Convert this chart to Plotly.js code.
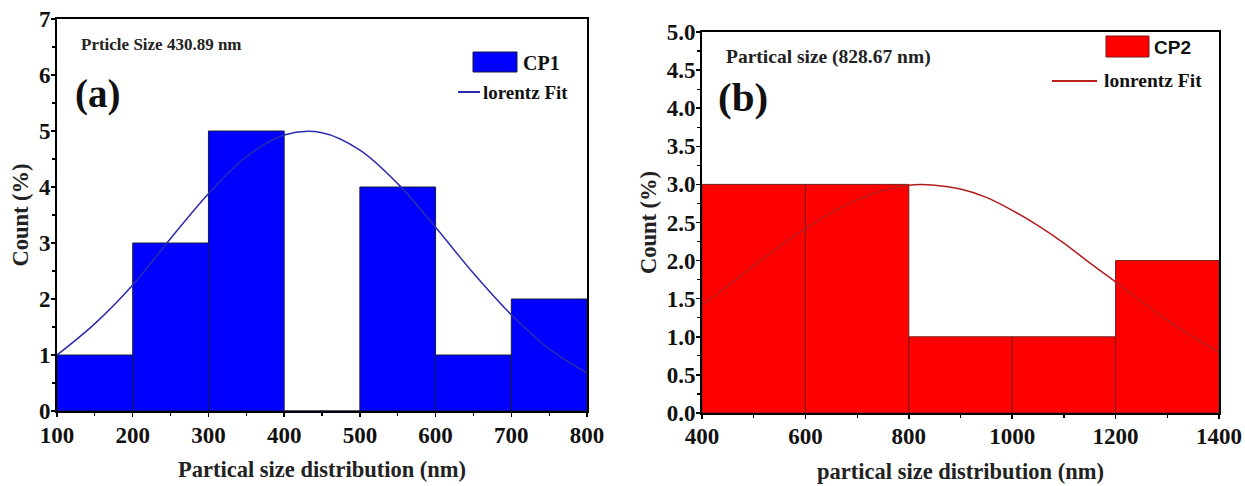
<!DOCTYPE html>
<html>
<head>
<meta charset="utf-8">
<script src="https://cdn.plot.ly/plotly-3.0.1.min.js"></script>
<style>html,body{margin:0;padding:0;background:#fff;}#chart{width:1245px;height:486px;}</style>
</head>
<body>
<div id="chart"></div>
<script>
// ---- Panel (a): CP1 ----
const binEdgesA = [100, 200, 300, 400, 500, 600, 700, 800];
const countsA = [1, 3, 5, 0, 4, 1, 2];
const fitXA = [100, 150, 200, 250, 300, 350, 400, 450, 500, 550, 600, 650, 700, 750, 800];
const fitYA = [1.0, 1.56, 2.25, 3.08, 3.88, 4.54, 4.93, 4.97, 4.66, 4.06, 3.28, 2.46, 1.72, 1.11, 0.68];
const xTicksA = [100, 200, 300, 400, 500, 600, 700, 800];
const yTicksA = [0, 1, 2, 3, 4, 5, 6, 7];

// ---- Panel (b): CP2 ----
const binEdgesB = [400, 600, 800, 1000, 1200, 1400];
const countsB = [3, 3, 1, 1, 2];
const fitXB = [400, 450, 500, 550, 600, 650, 700, 750, 800, 850, 900, 950, 1000, 1050, 1100, 1150, 1200, 1250, 1300, 1350, 1400];
const fitYB = [1.42, 1.67, 1.93, 2.19, 2.42, 2.63, 2.8, 2.92, 2.99, 2.99, 2.94, 2.83, 2.66, 2.46, 2.23, 1.97, 1.72, 1.46, 1.22, 1.0, 0.8];
const xTicksB = [400, 600, 800, 1000, 1200, 1400];
const yTicksB = [0, 0.5, 1.0, 1.5, 2.0, 2.5, 3.0, 3.5, 4.0, 4.5, 5.0];

function mids(e){ return e.slice(0,-1).map((v,i)=>(v+e[i+1])/2); }
function widths(e){ return e.slice(0,-1).map((v,i)=>e[i+1]-v); }

const SERIF = 'Liberation Serif, Times New Roman, serif';
const SANS = 'Liberation Sans, Arial, sans-serif';
const W = 1245, H = 486;
const px = v => v / W;
const py = v => 1 - v / H;

const traces = [
  {type:'bar', x:mids(binEdgesA), y:countsA, width:widths(binEdgesA), name:'CP1', showlegend:false,
   marker:{color:'#0000ff', line:{color:'#1a1a40', width:1}}, xaxis:'x', yaxis:'y'},
  {type:'scatter', mode:'lines', x:fitXA, y:fitYA, name:'lorentz Fit', showlegend:false,
   line:{color:'#2b2bb0', width:1.5, shape:'spline'}, xaxis:'x', yaxis:'y'},
  {type:'bar', x:mids(binEdgesB), y:countsB, width:widths(binEdgesB), name:'CP2', showlegend:false,
   marker:{color:'#ff0000', line:{color:'#7a1a1a', width:1}}, xaxis:'x2', yaxis:'y2'},
  {type:'scatter', mode:'lines', x:fitXB, y:fitYB, name:'lonrentz Fit', showlegend:false,
   line:{color:'#b51c1c', width:1.5, shape:'spline'}, xaxis:'x2', yaxis:'y2'}
];

const axisCommon = {
  showline:true, mirror:true, linecolor:'#000', linewidth:2, showgrid:false, zeroline:false,
  ticks:'outside', ticklen:4, tickwidth:1.5, tickcolor:'#000',
  tickfont:{family:SERIF, size:23, color:'#111', weight:'bold'}
};
const titleFont = {family:SERIF, size:22.5, color:'#222', weight:'bold'};

const layout = {
  width:W, height:H,
  margin:{l:0, r:0, t:0, b:0},
  paper_bgcolor:'#fff', plot_bgcolor:'#fff',
  bargap:0, showlegend:false,
  xaxis:Object.assign({}, axisCommon, {
    domain:[0.0458, 0.4715], range:[100, 800], tickvals:xTicksA, ticklabelstandoff:-2,
    minor:{dtick:50, ticks:'outside', ticklen:3, tickcolor:'#000', tickwidth:1.2},
    title:{text:'Partical size distribution (nm)', font:titleFont, standoff:15}
  }),
  yaxis:Object.assign({}, axisCommon, {
    domain:[0.1543, 0.9609], range:[0, 7], tickvals:yTicksA, ticklabelstandoff:-4,
    minor:{dtick:0.5, ticks:'outside', ticklen:3, tickcolor:'#000', tickwidth:1.2},
    title:{text:'Count (%)', font:titleFont, standoff:4}
  }),
  xaxis2:Object.assign({}, axisCommon, {
    domain:[0.5639, 0.9791], range:[400, 1400], tickvals:xTicksB, anchor:'y2', ticklabelstandoff:-3,
    minor:{dtick:100, ticks:'outside', ticklen:3, tickcolor:'#000', tickwidth:1.2},
    title:{text:'partical size distribution (nm)', font:titleFont, standoff:16}
  }),
  yaxis2:Object.assign({}, axisCommon, {
    domain:[0.1502, 0.9342], range:[0, 5], tickvals:yTicksB, tickformat:'.1f', anchor:'x2', ticklabelstandoff:-4,
    minor:{dtick:0.25, ticks:'outside', ticklen:3, tickcolor:'#000', tickwidth:1.2},
    title:{text:'Count (%)', font:titleFont, standoff:4}
  }),
  shapes:[
    // legend swatches (a)
    {type:'rect', xref:'paper', yref:'paper', x0:px(473), x1:px(517), y0:py(72), y1:py(52),
     fillcolor:'#0000ff', line:{color:'#1a1a40', width:1}},
    {type:'line', xref:'paper', yref:'paper', x0:px(458), x1:px(480), y0:py(92), y1:py(92),
     line:{color:'#2b2bb0', width:2}},
    // legend swatches (b)
    {type:'rect', xref:'paper', yref:'paper', x0:px(1106), x1:px(1149), y0:py(57), y1:py(36),
     fillcolor:'#ff0000', line:{color:'#7a1a1a', width:1}},
    {type:'line', xref:'paper', yref:'paper', x0:px(1052), x1:px(1097), y0:py(81), y1:py(81),
     line:{color:'#c02020', width:2}}
  ],
  annotations:[
    {xref:'paper', yref:'paper', x:px(79), y:py(45), xanchor:'left', yanchor:'middle', showarrow:false,
     text:'Prticle Size 430.89 nm', font:{family:SERIF, size:17, color:'#222', weight:'bold'}},
    {xref:'paper', yref:'paper', x:px(73), y:py(94), xanchor:'left', yanchor:'middle', showarrow:false,
     text:'(a)', font:{family:SERIF, size:39, color:'#111', weight:'bold'}},
    {xref:'paper', yref:'paper', x:px(724), y:py(57), xanchor:'left', yanchor:'middle', showarrow:false,
     text:'Partical size (828.67 nm)', font:{family:SERIF, size:19.5, color:'#222', weight:'bold'}},
    {xref:'paper', yref:'paper', x:px(716), y:py(97), xanchor:'left', yanchor:'middle', showarrow:false,
     text:'(b)', font:{family:SERIF, size:41, color:'#111', weight:'bold'}},
    {xref:'paper', yref:'paper', x:px(521), y:py(63), xanchor:'left', yanchor:'middle', showarrow:false,
     text:'CP1', font:{family:SERIF, size:20, color:'#111', weight:'bold'}},
    {xref:'paper', yref:'paper', x:px(481), y:py(92), xanchor:'left', yanchor:'middle', showarrow:false,
     text:'lorentz Fit', font:{family:SERIF, size:19, color:'#111', weight:'bold'}},
    {xref:'paper', yref:'paper', x:px(1152), y:py(47), xanchor:'left', yanchor:'middle', showarrow:false,
     text:'CP2', font:{family:SANS, size:19, color:'#111', weight:'bold'}},
    {xref:'paper', yref:'paper', x:px(1102), y:py(81), xanchor:'left', yanchor:'middle', showarrow:false,
     text:'lonrentz Fit', font:{family:SERIF, size:19.5, color:'#111', weight:'bold'}}
  ]
};

Plotly.newPlot('chart', traces, layout, {displayModeBar:false, staticPlot:true});
</script>
</body>
</html>
